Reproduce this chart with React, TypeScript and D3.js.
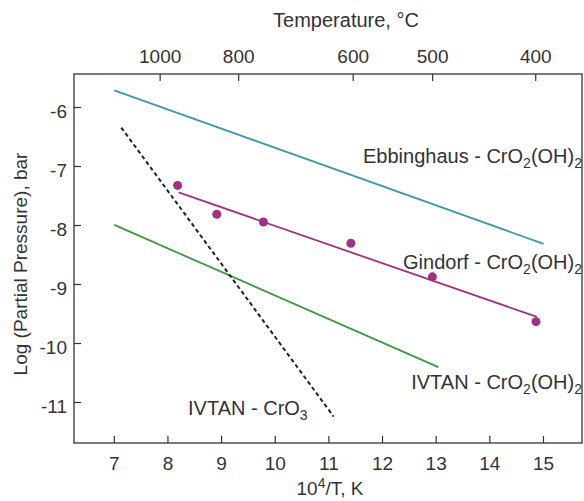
import React from "react";
import * as d3 from "d3";

const xTicks = [7, 8, 9, 10, 11, 12, 13, 14, 15];
const yTicks = [-6, -7, -8, -9, -10, -11];
const tempTicksC = [1000, 800, 600, 500, 400];

const ebbX = [7.0, 15.0];
const ebbY = [-5.71, -8.31];
const gindorfLineX = [8.2, 14.88];
const gindorfLineY = [-7.44, -9.55];
const gindorfPtsX = [8.18, 8.91, 9.78, 11.41, 12.93, 14.86];
const gindorfPtsY = [-7.32, -7.81, -7.94, -8.3, -8.87, -9.63];
const ivtanOHX = [7.0, 13.04];
const ivtanOHY = [-7.99, -10.4];
const ivtanCrO3X = [7.13, 11.09];
const ivtanCrO3Y = [-6.34, -11.24];

const FONT = "Liberation Sans, Arial, sans-serif";
const FS = 19;
const FL = 20;
const SUB = 14;

export default function App() {
  const W = 584, H = 501;
  const left = 74, right = 582, top = 74, bottom = 443;
  const x = d3.scaleLinear().domain([7, 14.855]).range([114.3, 535.7]);
  const y = d3.scaleLinear().domain([-6, -11]).range([107.5, 402.5]);
  const line = d3.line<[number, number]>().x(d => x(d[0])).y(d => y(d[1]));
  const zip = (a: number[], b: number[]) => a.map((v, i) => [v, b[i]] as [number, number]);

  const teal = "#3a9aa6";
  const purple = "#a3307c";
  const green = "#3e9a40";
  const ink = "#333";

  const ohLabel = (prefix: string, xr: number, yb: number) => (
    <text x={xr} y={yb} fontSize={FL} fill={ink} fontFamily={FONT} textAnchor="end">
      {prefix} - CrO<tspan dy={5} fontSize={SUB}>2</tspan><tspan dy={-5}>(OH)</tspan><tspan dy={5} fontSize={SUB}>2</tspan>
    </text>
  );

  return (
    <svg width={W} height={H} style={{ position: "absolute", left: 0, top: 0, background: "#fff" }}>
      <rect x={0} y={0} width={W} height={H} fill="#fff" />
      <rect x={left} y={top} width={right - left} height={bottom - top} fill="none" stroke={ink} strokeWidth={1.3} />
      {xTicks.map(t => (
        <g key={"xt" + t}>
          <line x1={x(t)} x2={x(t)} y1={bottom} y2={bottom - 7} stroke={ink} strokeWidth={1.2} />
          <text x={x(t)} y={470} fontSize={FS} fill={ink} fontFamily={FONT} textAnchor="middle">{t}</text>
        </g>
      ))}
      {tempTicksC.map(t => {
        const xv = 1e4 / (t + 273.15);
        return (
          <g key={"tt" + t}>
            <line x1={x(xv)} x2={x(xv)} y1={top} y2={top + 7} stroke={ink} strokeWidth={1.2} />
            <text x={x(xv)} y={63} fontSize={FS} fill={ink} fontFamily={FONT} textAnchor="middle">{t}</text>
          </g>
        );
      })}
      {yTicks.map(t => (
        <g key={"yt" + t}>
          <line x1={left} x2={left + 7} y1={y(t)} y2={y(t)} stroke={ink} strokeWidth={1.2} />
          <text x={67} y={y(t) + 10} fontSize={FS} fill={ink} fontFamily={FONT} textAnchor="end">{t}</text>
        </g>
      ))}
      <text x={346} y={27} fontSize={FL} fill={ink} fontFamily={FONT} textAnchor="middle">Temperature, °C</text>
      <text x={330} y={495} fontSize={FS} fill={ink} fontFamily={FONT} textAnchor="middle">
        10<tspan dy={-7} fontSize={SUB}>4</tspan><tspan dy={7}>/T, K</tspan>
      </text>
      <text transform={`translate(27, 264) rotate(-90)`} fontSize={FS} fill={ink} fontFamily={FONT} textAnchor="middle">Log (Partial Pressure), bar</text>

      <path d={line(zip(ebbX, ebbY)) || ""} stroke={teal} strokeWidth={1.8} fill="none" />
      <path d={line(zip(gindorfLineX, gindorfLineY)) || ""} stroke={purple} strokeWidth={1.8} fill="none" />
      <path d={line(zip(ivtanOHX, ivtanOHY)) || ""} stroke={green} strokeWidth={1.8} fill="none" />
      <path d={line(zip(ivtanCrO3X, ivtanCrO3Y)) || ""} stroke="#222" strokeWidth={2} strokeDasharray="4,3" fill="none" />
      {gindorfPtsX.map((v, i) => (
        <circle key={"p" + i} cx={x(v)} cy={y(gindorfPtsY[i])} r={4.5} fill={purple} />
      ))}

      {ohLabel("Ebbinghaus", 582, 163)}
      {ohLabel("Gindorf", 582, 269)}
      {ohLabel("IVTAN", 582, 389)}
      <text x={188} y={415} fontSize={FL} fill={ink} fontFamily={FONT} textAnchor="start">
        IVTAN - CrO<tspan dy={5} fontSize={SUB}>3</tspan>
      </text>
    </svg>
  );
}
